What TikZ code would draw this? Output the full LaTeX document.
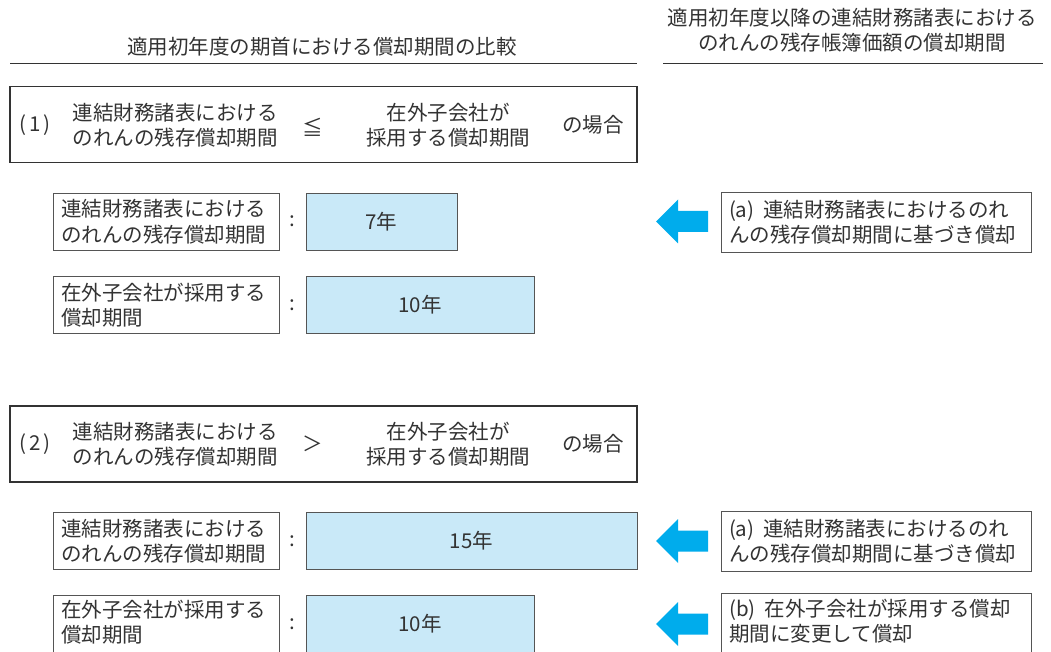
\documentclass[tikz,border=0pt]{standalone}
\usepackage{fontspec}
\setmainfont{Noto Sans CJK JP}
\definecolor{ink}{HTML}{333333}
\definecolor{boxline}{HTML}{555555}
\definecolor{fillblue}{HTML}{C9E9F8}
\definecolor{arrowblue}{HTML}{00ACEC}
\newcommand{\jfs}{\fontsize{20.5}{25.5}\selectfont}
\begin{document}
\begin{tikzpicture}[x=1pt,y=-1pt,
  txt/.style={font=\jfs, text=ink, inner sep=0pt, align=center},
  txtl/.style={font=\jfs, text=ink, inner sep=0pt, align=left},
  casebox/.style={draw=ink, line width=1.6pt, minimum width=627pt, minimum height=76pt, inner sep=0pt},
  labelbox/.style={draw=boxline, line width=0.9pt, text width=210pt, inner xsep=8pt, inner ysep=0pt, minimum height=57pt, align=left, font=\jfs, text=ink},
  valbox/.style={draw=boxline, fill=fillblue, line width=0.9pt, minimum height=57pt, inner sep=0pt, font=\jfs, text=ink},
  notebox/.style={draw=boxline, line width=0.9pt, text width=294pt, inner xsep=8pt, inner ysep=0pt, minimum height=60pt, align=left, font=\jfs, text=ink},
  rule/.style={draw=ink, line width=0.9pt},
  bluearrow/.style={fill=arrowblue, draw=none}
]
\useasboundingbox (0,0) rectangle (1051,652);
\clip (0,0) rectangle (1051,652);
\fill[white] (0,0) rectangle (1051,652);

% headers
\node[txt] (h1) at (322,47) {適用初年度の期首における償却期間の比較};
\node[txt] (h2) at (852,30) {適用初年度以降の連結財務諸表における\\のれんの残存帳簿価額の償却期間};
\coordinate (l1a) at (10,63); \coordinate (l1b) at (637,63);
\coordinate (l2a) at (663,63); \coordinate (l2b) at (1043,63);
\draw[rule] (l1a) -- (l1b);
\draw[rule] (l2a) -- (l2b);

% case (1)
\node[casebox] (c1) at (323.5,124.5) {};
\node[txt] (c1n) at (35,125) {(\hspace{3pt}1\hspace{3pt})};
\node[txt] (c1a) at (175,125) {連結財務諸表における\\のれんの残存償却期間};
\node[txt] (c1r) at (313,127) {≦};
\node[txt] (c1b) at (448,125) {在外子会社が\\採用する償却期間};
\node[txt] (c1c) at (593,125) {の場合};

\node[labelbox] (r1l) at (166,221.5) {連結財務諸表における\\のれんの残存償却期間};
\node[txt] (r1c) at (292,221.5) {:};
\node[valbox, minimum width=151pt] (r1v) at (381.5,221.5) {7年};

\node[labelbox] (r2l) at (166,305) {在外子会社が採用する\\償却期間};
\node[txt] (r2c) at (292,305) {:};
\node[valbox, minimum width=228pt] (r2v) at (420,305) {10年};

\node[notebox] (n1) at (876,222) {(a)\hspace{9pt}連結財務諸表におけるのれ\\んの残存償却期間に基づき償却};
\fill[bluearrow] (656,221.5) -- ++(22,-22) -- ++(0,11.5) -- ++(30,0) -- ++(0,21) -- ++(-30,0) -- ++(0,11.5) -- cycle;

% case (2)
\node[casebox] (c2) at (323.5,444) {};
\node[txt] (c2n) at (35,444) {(\hspace{3pt}2\hspace{3pt})};
\node[txt] (c2a) at (175,444) {連結財務諸表における\\のれんの残存償却期間};
\node[txt] (c2r) at (313,444) {＞};
\node[txt] (c2b) at (448,444) {在外子会社が\\採用する償却期間};
\node[txt] (c2c) at (593,444) {の場合};

\node[labelbox] (r3l) at (166,541) {連結財務諸表における\\のれんの残存償却期間};
\node[txt] (r3c) at (292,541) {:};
\node[valbox, minimum width=331pt] (r3v) at (471.5,541) {15年};

\node[draw=boxline, line width=0.9pt, minimum width=226pt, minimum height=75pt, inner sep=0pt] (r4l) at (166,632.5) {};
\node[txtl, anchor=west] (r4lt) at (61,622) {在外子会社が採用する\\償却期間};
\node[txt] (r4c) at (292,624) {:};
\node[draw=boxline, fill=fillblue, line width=0.9pt, minimum width=228pt, minimum height=75pt, inner sep=0pt] (r4v) at (420,632.5) {};
\node[txt] (r4vt) at (420,624) {10年};

\node[notebox] (n2) at (876,541) {(a)\hspace{9pt}連結財務諸表におけるのれ\\んの残存償却期間に基づき償却};
\fill[bluearrow] (656,541) -- ++(22,-22) -- ++(0,11.5) -- ++(30,0) -- ++(0,21) -- ++(-30,0) -- ++(0,11.5) -- cycle;

\node[draw=boxline, line width=0.9pt, minimum width=310pt, minimum height=77pt, inner sep=0pt] (n3) at (876,631.5) {};
\node[txtl, anchor=west] (n3t) at (729,621) {(b)\hspace{9pt}在外子会社が採用する償却\\期間に変更して償却};
\fill[bluearrow] (656,624) -- ++(22,-22) -- ++(0,11.5) -- ++(30,0) -- ++(0,21) -- ++(-30,0) -- ++(0,11.5) -- cycle;
\end{tikzpicture}
\end{document}
